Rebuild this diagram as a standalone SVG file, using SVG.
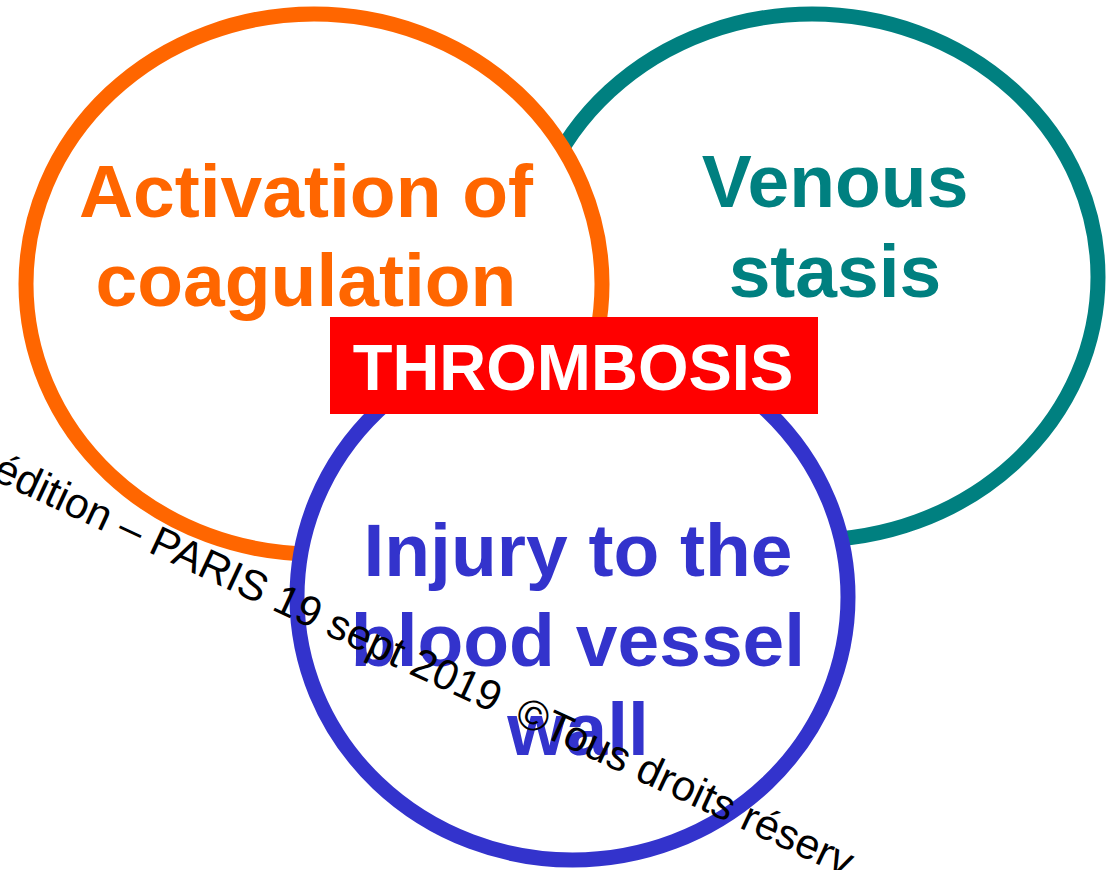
<svg xmlns="http://www.w3.org/2000/svg" width="1115" height="870" viewBox="0 0 1115 870">
  <style>
    .ring { fill: #FFFFFF; stroke-width: 15; }
    .lbl { font-family: "Liberation Sans", Arial, sans-serif; font-weight: bold; font-size: 75px; text-anchor: middle; }
    .wm { font-family: "Liberation Sans", Arial, sans-serif; font-size: 42.5px; fill: #000000; }
  </style>
  <rect x="0" y="0" width="1115" height="870" fill="#FFFFFF"/>
  <g id="venous-stasis">
    <ellipse class="ring" cx="812" cy="277" rx="286" ry="263" stroke="#008080"/>
    <text class="lbl" fill="#008080" x="835" y="207">Venous</text>
    <text class="lbl" fill="#008080" x="835" y="297">stasis</text>
  </g>
  <g id="activation-coagulation">
    <ellipse class="ring" cx="314" cy="284" rx="288" ry="270" stroke="#FF6600"/>
    <text class="lbl" fill="#FF6600" x="306" y="217">Activation of</text>
    <text class="lbl" fill="#FF6600" x="306" y="306">coagulation</text>
  </g>
  <g id="injury-vessel-wall">
    <ellipse class="ring" cx="572.5" cy="597" rx="275.5" ry="263" stroke="#3333CC"/>
    <text class="lbl" fill="#3333CC" x="578" y="576">Injury to the</text>
    <text class="lbl" fill="#3333CC" x="578" y="666">blood vessel</text>
    <text class="lbl" fill="#3333CC" x="578" y="755">wall</text>
  </g>
  <g id="thrombosis">
    <rect x="330" y="317" width="488" height="97" fill="#FF0000"/>
    <text class="lbl" fill="#FFFFFF" x="573" y="390" style="font-size:65px">THROMBOSIS</text>
  </g>
  <g id="connectors"></g>
  <g id="watermark">
    <text class="wm" transform="translate(-9.3 478.7) rotate(25)" x="0" y="0">édition – PARIS 19 sept 2019 <tspan dx="10">©Tous droits réserv</tspan></text>
  </g>
</svg>
